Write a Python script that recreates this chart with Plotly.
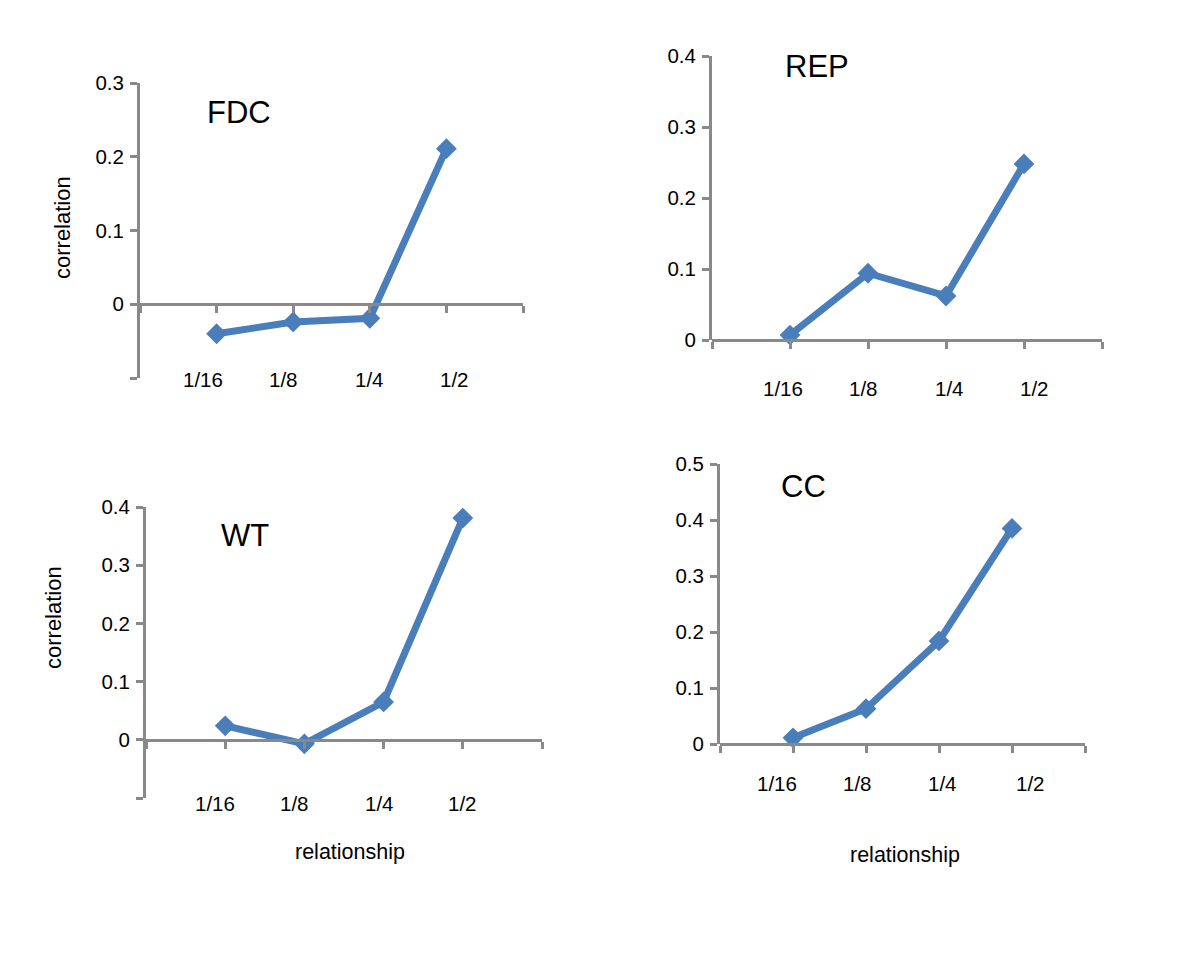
import plotly.graph_objects as go

W, H = 1200, 953

categories = ["1/16", "1/8", "1/4", "1/2"]
cat_pos = [1, 2, 3, 4]

fdc_values = [-0.040, -0.024, -0.019, 0.211]
rep_values = [0.007, 0.094, 0.062, 0.248]
wt_values = [0.024, -0.007, 0.065, 0.381]
cc_values = [0.011, 0.063, 0.184, 0.385]

fdc_yticks = [-0.1, 0, 0.1, 0.2, 0.3]
fdc_yticktext = ["", "0", "0.1", "0.2", "0.3"]
rep_yticks = [0, 0.1, 0.2, 0.3, 0.4]
rep_yticktext = ["0", "0.1", "0.2", "0.3", "0.4"]
wt_yticks = [-0.1, 0, 0.1, 0.2, 0.3, 0.4]
wt_yticktext = ["", "0", "0.1", "0.2", "0.3", "0.4"]
cc_yticks = [0, 0.1, 0.2, 0.3, 0.4, 0.5]
cc_yticktext = ["0", "0.1", "0.2", "0.3", "0.4", "0.5"]

y_axis_title = "correlation"
x_axis_title = "relationship"

LINE_COLOR = "#4A7EBB"
AXIS_COLOR = "#898989"
FONT = "Liberation Sans, Arial, sans-serif"

def px_x(x):
    return x / W

def px_y(y):
    return 1 - y / H

# layout geometry per panel (pixels)
panels = [
    dict(name="FDC", vals=fdc_values, yt=fdc_yticks, ytt=fdc_yticktext,
         xl=140, xr=523, ytop=83, ybot=378, yr=[-0.1, 0.3],
         lab=(239, 112), ylab=(62, 228), xlab=None,
         tly=379, tlx=[0.82, 1.87, 3.0, 4.11]),
    dict(name="REP", vals=rep_values, yt=rep_yticks, ytt=rep_yticktext,
         xl=712, xr=1102, ytop=56, ybot=340, yr=[0, 0.4],
         lab=(817, 67), ylab=None, xlab=None,
         tly=388, tlx=[0.91, 1.94, 3.04, 4.14]),
    dict(name="WT", vals=wt_values, yt=wt_yticks, ytt=wt_yticktext,
         xl=146, xr=542, ytop=507, ybot=798, yr=[-0.1, 0.4],
         lab=(245, 535), ylab=(53, 618), xlab=(350, 852),
         tly=803, tlx=[0.87, 1.88, 2.95, 4.0]),
    dict(name="CC", vals=cc_values, yt=cc_yticks, ytt=cc_yticktext,
         xl=720, xr=1085, ytop=464, ybot=744, yr=[0, 0.5],
         lab=(803, 487), ylab=None, xlab=(905, 855),
         tly=783, tlx=[0.78, 1.88, 3.05, 4.25]),
]

fig = go.Figure()
annotations = []
layout = dict(
    template="none",
    width=W, height=H, autosize=False,
    margin=dict(l=0, r=0, t=0, b=0, pad=0, autoexpand=False),
    paper_bgcolor="white", plot_bgcolor="white",
    showlegend=False,
    font=dict(family=FONT, color="black"),
)

for i, p in enumerate(panels):
    n = "" if i == 0 else str(i + 1)
    xa, ya = "x" + n, "y" + n
    fig.add_trace(go.Scatter(
        x=cat_pos, y=p["vals"], xaxis=xa, yaxis=ya,
        mode="lines+markers",
        line=dict(color=LINE_COLOR, width=7),
        marker=dict(symbol="diamond", size=16, color=LINE_COLOR),
        hoverinfo="skip", cliponaxis=False,
    ))
    yr = p["yr"]
    zero_px = p["ytop"] + (yr[1] - 0) / (yr[1] - yr[0]) * (p["ybot"] - p["ytop"])
    layout["xaxis" + n] = dict(
        domain=[px_x(p["xl"]), px_x(p["xr"])], range=[0, 5],
        anchor="free", position=px_y(zero_px), automargin=False,
        showline=True, linecolor=AXIS_COLOR, linewidth=3,
        ticks="outside", ticklen=7, tickwidth=3, tickcolor=AXIS_COLOR,
        tickvals=[0, 1, 2, 3, 4, 5], showticklabels=False,
        showgrid=False, zeroline=False, fixedrange=True,
    )
    layout["yaxis" + n] = dict(
        domain=[px_y(p["ybot"]), px_y(p["ytop"])], range=yr,
        anchor=xa, automargin=False,
        showline=True, linecolor=AXIS_COLOR, linewidth=3,
        ticks="outside", ticklen=7, tickwidth=3, tickcolor=AXIS_COLOR,
        tickvals=p["yt"], ticktext=p["ytt"],
        tickfont=dict(size=20.5, family=FONT, color="black"),
        ticklabelstandoff=2,
        showgrid=False, zeroline=False, fixedrange=True,
    )
    annotations.append(dict(
        text=p["name"], x=px_x(p["lab"][0]), y=px_y(p["lab"][1]),
        xref="paper", yref="paper", showarrow=False,
        xanchor="center", yanchor="middle",
        font=dict(size=31, family=FONT, color="black"),
    ))
    for lbl, lx in zip(categories, p["tlx"]):
        annotations.append(dict(
            text=lbl, x=lx, y=px_y(p["tly"]),
            xref=xa, yref="paper", showarrow=False,
            xanchor="center", yanchor="middle",
            font=dict(size=20.5, family=FONT, color="black"),
        ))
    if p["ylab"]:
        annotations.append(dict(
            text=y_axis_title, x=px_x(p["ylab"][0]), y=px_y(p["ylab"][1]),
            xref="paper", yref="paper", showarrow=False, textangle=-90,
            xanchor="center", yanchor="middle",
            font=dict(size=22, family=FONT, color="black"),
        ))
    if p["xlab"]:
        annotations.append(dict(
            text=x_axis_title, x=px_x(p["xlab"][0]), y=px_y(p["xlab"][1]),
            xref="paper", yref="paper", showarrow=False,
            xanchor="center", yanchor="middle",
            font=dict(size=21.5, family=FONT, color="black"),
        ))

layout["annotations"] = annotations
fig.update_layout(**layout)
fig.write_html(
    "out.html",
    config={"displayModeBar": False, "responsive": False},
    post_script="document.body.style.margin='0';document.body.style.padding='0';",
)
